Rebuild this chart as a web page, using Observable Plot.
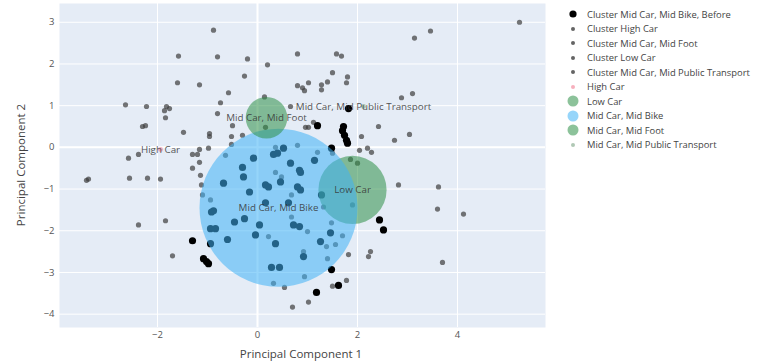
<!DOCTYPE html>
<html>
<head>
<meta charset="utf-8">
<script src="https://cdn.jsdelivr.net/npm/d3@7"></script>
<script src="https://cdn.jsdelivr.net/npm/@observablehq/plot@0.6"></script>
<style>
  body { margin: 0; background: #fff; font-family: "Open Sans", sans-serif; }
  #wrap { position: relative; width: 757px; height: 364px; overflow: hidden; }
  #chart { position: absolute; left: 0; top: 0; }
  #legend { position: absolute; left: 565px; top: 7px; font-size: 9.4px; color: #444; }
  .row { height: 14.5px; display: flex; align-items: center; white-space: nowrap; }
  .row svg { width: 16px; height: 14px; margin-right: 6px; flex: none; }
</style>
</head>
<body>
<div id="wrap"><div id="chart"></div><div id="legend"></div></div>
<script>
// PCA scores of respondents, grouped by travel-mode cluster
const clusterMidBikeBefore = [
  [-1.30,-2.24],[-1.08,-2.67],[-1.02,-2.74],[-0.98,-2.79],[1.48,-2.93],[1.62,-3.31],[1.18,-3.48],
  [2.44,-1.74],[2.52,-1.98],[1.20,0.52],[1.72,0.50],[1.70,0.40],[1.74,0.29],[1.78,0.17],[1.80,0.10],
  [1.82,0.93],[-0.92,-1.55],[-0.88,-1.52],[-0.94,-1.95],[-0.84,-1.95],[-0.94,-2.31],[-0.60,-2.21],
  [-0.68,-0.86],[-0.28,-0.71],[-0.30,-0.48],[-0.16,-1.07],[-0.08,-0.26],[-0.46,-1.79],[-0.26,-1.71],
  [-0.04,-2.10],[0.04,-1.86],[0.36,-2.31],[0.28,-2.88],[0.44,-2.88],[0.72,-1.86],[0.84,-1.90],
  [0.92,-2.62],[1.26,-2.26],[1.46,-2.05],[0.16,-0.90],[0.22,-0.95],[0.46,-0.83],[0.80,-0.95],
  [0.86,-1.02],[0.86,-0.60],[1.28,-1.14],[0.32,-0.17],[0.40,-0.14],[0.52,-0.02],[0.66,-0.38],
  [0.84,-0.55],[1.14,-0.31],[1.48,-0.02],[0.16,-1.33],[0.62,-1.33]
];
const clusterHighCar = [
  [-0.88,2.81],[-1.58,2.19],[-0.80,2.17],[-1.60,1.55],[-1.16,1.50],[-0.74,1.07],[-2.64,1.02],
  [-2.22,0.98],[-1.82,0.98],[-1.76,0.93],[-1.86,0.88],[-0.80,0.81],[-1.84,0.71],[-2.30,0.50],
  [-2.24,0.52],[-1.48,0.36],[-0.96,0.33],[-0.96,0.26],[-2.58,-0.26],[-2.38,-0.17],[-1.30,-0.17],
  [-1.20,-0.17],[-1.16,-0.05],[-0.98,-0.02],[-1.30,-0.50],[-1.16,-0.36],[-1.14,-0.67],[-3.42,-0.79],
  [-3.38,-0.76],[-2.56,-0.74],[-2.20,-0.74],[-1.94,-0.76],[-1.84,-1.76],[-2.38,-1.86],[-1.70,-2.60],
  [-1.12,-0.90],[-1.10,-1.14],[-0.94,-1.26]
];
const clusterMidFoot = [
  [-0.52,0.26],[-0.50,0.52],[-0.58,1.31],[-0.26,1.71],[-0.20,2.12],[-0.52,0.07],[-0.64,-0.19],
  [-0.30,0.29],[0.20,1.98],[0.14,1.21],[0.16,0.48],[0.36,0.00],[0.80,0.05],[0.48,-0.71],[0.36,-0.60],
  [0.68,-1.14],[0.68,-1.67],[0.22,-2.14],[1.00,-2.02],[0.92,-2.50],[0.32,-3.26],[0.54,-3.36],
  [0.70,-3.83],[1.02,-3.71],[0.94,-3.10]
];
const clusterLowCar = [
  [1.20,-0.12],[1.50,-0.14],[1.32,-1.43],[1.86,-0.29],[2.00,-0.38],[1.90,-1.38],[2.82,-0.90],
  [3.62,-0.95],[3.60,-1.48],[4.12,-1.60],[3.70,-2.76],[2.26,-2.50],[2.22,-2.62],[1.82,-2.57],
  [1.78,-3.19],[1.50,-3.33],[1.40,-2.67],[1.70,-2.12],[1.56,-2.33],[1.38,-2.38],[1.48,-1.81],
  [2.04,-0.07],[2.20,-0.02],[2.28,-0.12]
];
const clusterMidPublicTransport = [
  [0.80,2.24],[1.58,2.24],[1.68,2.19],[1.50,1.79],[1.80,1.69],[1.78,1.55],[1.40,1.57],[1.02,1.55],
  [0.80,1.48],[0.90,1.43],[0.94,1.36],[1.28,1.50],[1.28,1.38],[0.66,0.98],[0.96,0.48],[1.02,0.48],
  [1.12,0.60],[2.42,0.50],[2.74,0.17],[3.04,0.31],[2.08,0.26],[3.14,2.62],[3.46,2.79],[5.24,3.00],
  [2.88,1.19],[3.10,1.29]
];

// cluster centres and their relative weight
const centroidNames  = ["High Car", "Low Car", "Mid Car, Mid Bike", "Mid Car, Mid Foot", "Mid Car, Mid Public Transport"];
const centroidX      = [-1.94, 1.90, 0.42, 0.18, 2.12];
const centroidY      = [-0.05, -1.02, -1.45, 0.71, 0.98];
const centroidWeight = [3, 41, 95, 25, 3];

const xTicks = [-2, 0, 2, 4];
const yTicks = [-4, -3, -2, -1, 0, 1, 2, 3];

const legendNames = [
  "Cluster Mid Car, Mid Bike, Before", "Cluster High Car", "Cluster Mid Car, Mid Foot",
  "Cluster Low Car", "Cluster Mid Car, Mid Public Transport", ...centroidNames
];

const centroidColors = ["#ef6f86", "#2d9047", "#3fb3f5", "#2d9047", "#6f9a78"];

const toRows = (arr, cluster) => arr.map(([x, y]) => ({x, y, cluster}));
const grayPoints = [
  ...toRows(clusterHighCar, "Cluster High Car"),
  ...toRows(clusterMidFoot, "Cluster Mid Car, Mid Foot"),
  ...toRows(clusterLowCar, "Cluster Low Car"),
  ...toRows(clusterMidPublicTransport, "Cluster Mid Car, Mid Public Transport")
];
const blackPoints = toRows(clusterMidBikeBefore, "Cluster Mid Car, Mid Bike, Before");
const centroids = centroidNames.map((name, i) => ({name, x: centroidX[i], y: centroidY[i], weight: centroidWeight[i]}));

const minusFmt = d => d < 0 ? "\u2212" + Math.abs(d) : String(d);

const chart = Plot.plot({
  width: 555,
  height: 364,
  marginLeft: 59,
  marginRight: 10,
  marginTop: 3,
  marginBottom: 37,
  style: {fontFamily: '"Open Sans", sans-serif', fontSize: "9px", color: "#444", background: "transparent"},
  x: {domain: [-3.96, 5.76]},
  y: {domain: [-4.32, 3.45]},
  r: {type: "linear", domain: [0, 95], range: [0, 79]},
  color: {domain: centroidNames, range: centroidColors},
  marks: [
    Plot.frame({fill: "#E5ECF6", stroke: null}),
    Plot.gridX(xTicks, {stroke: "#fff", strokeOpacity: 1}),
    Plot.gridY(yTicks, {stroke: "#fff", strokeOpacity: 1}),
    Plot.ruleX([0], {stroke: "#fff", strokeWidth: 2}),
    Plot.ruleY([0], {stroke: "#fff", strokeWidth: 2}),
    Plot.axisX(xTicks, {tickSize: 0, tickPadding: 4, tickFormat: minusFmt, label: null, fill: "#555", fontSize: 9.5}),
    Plot.axisY(yTicks, {tickSize: 0, tickPadding: 5, tickFormat: minusFmt, label: null, fill: "#555", fontSize: 9.5}),
    Plot.dot(grayPoints, {x: "x", y: "y", r: 2.6, fill: "#3d3d3d", fillOpacity: 0.7}),
    Plot.dot(blackPoints, {x: "x", y: "y", r: 3.6, fill: "#000"}),
    Plot.dot(centroids, {x: "x", y: "y", r: "weight", fill: "name", fillOpacity: 0.55, sort: null}),
    Plot.text(centroids, {x: "x", y: "y", text: "name", fill: "#333", fillOpacity: 0.85, fontSize: 9.8})
  ]
});
document.getElementById("chart").appendChild(chart);

// axis titles
const svg = d3.select(chart);
svg.append("text")
  .attr("x", 301).attr("y", 358)
  .attr("text-anchor", "middle")
  .attr("font-size", "11.5px").attr("fill", "#444")
  .text("Principal Component 1");
svg.append("text")
  .attr("transform", "translate(25,165) rotate(-90)")
  .attr("text-anchor", "middle")
  .attr("font-size", "11.5px").attr("fill", "#444")
  .text("Principal Component 2");

// legend
const legendStyle = name => {
  if (name === "Cluster Mid Car, Mid Bike, Before") return {r: 3.6, fill: "#000", op: 1};
  if (name.startsWith("Cluster")) return {r: 2, fill: "#3d3d3d", op: 0.8};
  const i = centroidNames.indexOf(name);
  const big = centroidWeight[i] > 10;
  return {r: big ? 5.5 : 2, fill: centroidColors[i], op: 0.55};
};
const legend = d3.select("#legend");
legendNames.forEach(name => {
  const s = legendStyle(name);
  const row = legend.append("div").attr("class", "row");
  row.append("svg").append("circle")
    .attr("cx", 8).attr("cy", 7).attr("r", s.r)
    .attr("fill", s.fill).attr("fill-opacity", s.op);
  row.append("span").text(name);
});
</script>
</body>
</html>
